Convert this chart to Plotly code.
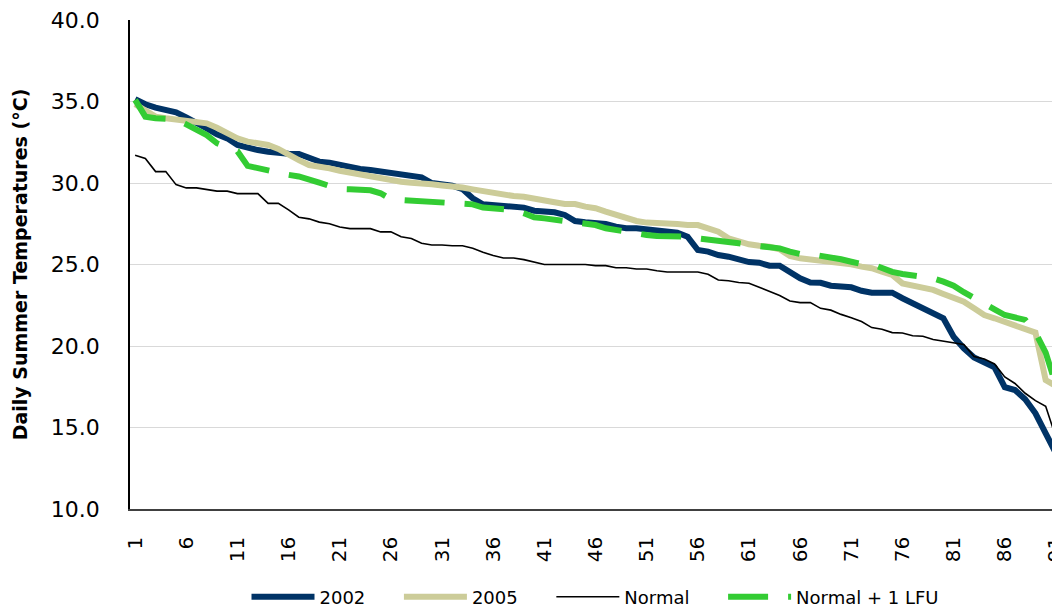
import plotly.graph_objects as go

days = list(range(1, 93))

y2002 = [35.15, 34.83, 34.62, 34.48, 34.34, 34.03, 33.72, 33.35, 32.99, 32.74,
         32.33, 32.13, 32.02, 31.92, 31.82, 31.80, 31.78, 31.58, 31.31, 31.25,
         31.10, 31.00, 30.86, 30.80, 30.70, 30.66, 30.55, 30.43, 30.35, 30.00,
         29.94, 29.84, 29.63, 29.06, 28.69, 28.65, 28.65, 28.60, 28.49, 28.30,
         28.24, 28.20, 28.04, 27.67, 27.59, 27.57, 27.48, 27.32, 27.22, 27.22,
         27.16, 27.06, 27.01, 26.95, 26.71, 25.89, 25.79, 25.58, 25.48, 25.28,
         25.15, 25.11, 24.93, 24.93, 24.56, 24.15, 23.90, 23.88, 23.70, 23.64,
         23.60, 23.39, 23.27, 23.27, 23.27, 22.93, 22.62, 22.31, 22.04, 21.70,
         20.57, 19.86, 19.30, 19.04, 18.69, 17.47, 17.30, 16.73, 15.87, 14.64,
         13.42, 12.20]

y2005 = [34.83, 34.42, 34.07, 33.97, 33.90, 33.87, 33.82, 33.66, 33.39, 33.05,
         32.74, 32.54, 32.44, 32.33, 32.09, 31.72, 31.40, 31.10, 31.04, 30.90,
         30.75, 30.63, 30.55, 30.45, 30.35, 30.18, 30.08, 30.02, 30.00, 29.92,
         29.85, 29.82, 29.72, 29.61, 29.51, 29.37, 29.26, 29.20, 29.16, 29.02,
         28.90, 28.82, 28.71, 28.71, 28.55, 28.45, 28.24, 28.04, 27.90, 27.67,
         27.57, 27.57, 27.53, 27.48, 27.42, 27.42, 27.22, 27.01, 26.61, 26.40,
         26.24, 26.15, 26.09, 25.93, 25.52, 25.38, 25.32, 25.23, 25.13, 25.11,
         25.01, 24.87, 24.77, 24.56, 24.36, 23.84, 23.70, 23.60, 23.44, 23.19,
         22.98, 22.72, 22.31, 21.90, 21.70, 21.49, 21.23, 21.02, 20.82, 17.91,
         17.55, 16.50]

normal = [31.70, 31.50, 30.70, 30.70, 29.90, 29.70, 29.70, 29.60, 29.50, 29.50,
          29.35, 29.35, 29.35, 28.75, 28.75, 28.35, 27.90, 27.80, 27.60, 27.50,
          27.30, 27.20, 27.20, 27.20, 27.00, 27.00, 26.70, 26.60, 26.30, 26.20,
          26.20, 26.15, 26.15, 26.00, 25.75, 25.55, 25.40, 25.40, 25.30, 25.17,
          25.00, 25.00, 25.00, 25.00, 25.00, 24.93, 24.93, 24.80, 24.80, 24.72,
          24.72, 24.62, 24.54, 24.54, 24.54, 24.54, 24.40, 24.05, 24.00, 23.90,
          23.85, 23.60, 23.33, 23.10, 22.76, 22.66, 22.66, 22.31, 22.20, 21.94,
          21.74, 21.50, 21.13, 21.03, 20.82, 20.80, 20.63, 20.60, 20.40, 20.29,
          20.20, 20.10, 19.35, 19.20, 18.90, 18.10, 17.70, 17.10, 16.65, 16.30,
          14.40, 13.10]

normal_lfu = [35.10, 34.07, 33.97, 33.97, 33.90, 33.60, 33.24, 32.94, 32.44, 32.17,
              31.95, 31.05, 30.90, 30.80, 30.66, 30.50, 30.40, 30.25, 30.02, 29.82,
              29.63, 29.61, 29.60, 29.55, 29.37, 29.00, 28.96, 28.92, 28.90, 28.88,
              28.85, 28.84, 28.80, 28.69, 28.49, 28.45, 28.40, 28.34, 28.14, 27.90,
              27.83, 27.75, 27.70, 27.63, 27.57, 27.42, 27.22, 27.10, 27.00, 26.95,
              26.81, 26.75, 26.75, 26.75, 26.70, 26.60, 26.54, 26.46, 26.40, 26.30,
              26.20, 26.10, 26.05, 25.99, 25.79, 25.64, 25.64, 25.55, 25.45, 25.32,
              25.17, 25.03, 25.03, 24.80, 24.55, 24.42, 24.36, 24.30, 24.15, 23.95,
              23.70, 23.30, 22.98, 22.62, 22.25, 21.90, 21.75, 21.60, 20.82, 19.60,
              17.60, 16.40]

series_names = ["2002", "2005", "Normal", "Normal + 1 LFU"]
tick_vals = days[::5]
tick_text = [str(d) for d in tick_vals]
y_ticks = [10, 15, 20, 25, 30, 35, 40]

FONT = "DejaVu Sans"
PAD = "\u00a0" * 5  # extra spacing between legend entries

fig = go.Figure()
fig.add_trace(go.Scatter(x=days, y=y2002, mode="lines", name=series_names[0] + PAD,
                         line=dict(color="#003366", width=6)))
fig.add_trace(go.Scatter(x=days, y=y2005, mode="lines", name=series_names[1] + PAD,
                         line=dict(color="#CCCC99", width=6)))
fig.add_trace(go.Scatter(x=days, y=normal, mode="lines", name=series_names[2] + PAD,
                         line=dict(color="#000000", width=1.6)))
fig.add_trace(go.Scatter(x=days, y=normal_lfu, mode="lines", name=series_names[3],
                         line=dict(color="#33CC33", width=6, dash="40px,20px")))

fig.update_layout(
    template="none",
    width=1052, height=609,
    margin=dict(l=122, r=0, t=12, b=108),
    paper_bgcolor="white", plot_bgcolor="white",
    font=dict(family=FONT, size=20, color="#000000"),
    showlegend=True,
    legend=dict(orientation="h", x=0.5, xanchor="center", y=-0.18, yanchor="middle",
                font=dict(family=FONT, size=18, color="#000000"),
                itemwidth=63, bgcolor="rgba(0,0,0,0)"),
    xaxis=dict(range=[0.5, 91.4], tickmode="array", tickvals=tick_vals, ticktext=tick_text,
               tickangle=-90, showgrid=False, zeroline=False, showline=True,
               linecolor="#404040", linewidth=1.5, ticks="", automargin=False,
               ticklabelstandoff=18, ticklabeloverflow="allow",
               tickfont=dict(family=FONT, size=20)),
    yaxis=dict(range=[10, 40], tickmode="array", tickvals=y_ticks,
               ticktext=[f"{v:.1f}" for v in y_ticks],
               showgrid=True, gridcolor="#D9D9D9", gridwidth=1, zeroline=False,
               showline=True, linecolor="#000000", linewidth=1.5, ticks="",
               automargin=False, ticklabelstandoff=24, ticklabeloverflow="allow",
               tickfont=dict(family=FONT, size=22),
               title=dict(text="<b>Daily Summer Temperatures (°C)</b>",
                          font=dict(family=FONT, size=19), standoff=18)),
)

fig.write_html("out.html")
